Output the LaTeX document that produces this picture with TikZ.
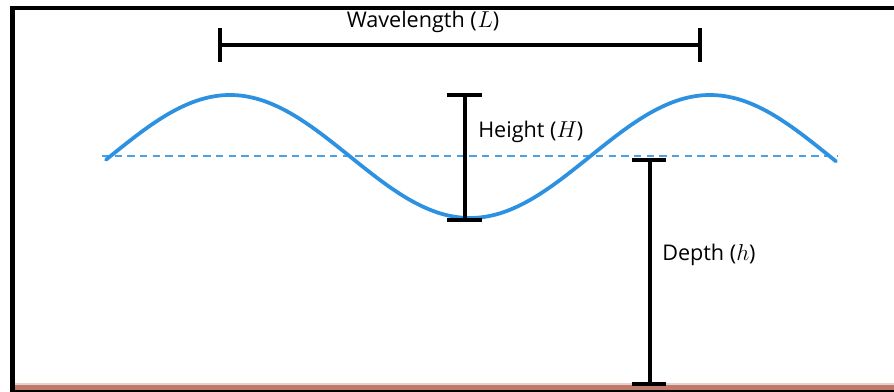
\documentclass[tikz,border=0pt]{standalone}
\usepackage{fontspec}
\setmainfont{Open Sans}
\definecolor{wave}{RGB}{44,145,225}
\definecolor{seabed}{RGB}{192,122,108}
\begin{document}
\begin{tikzpicture}[x=.75pt,y=-.75pt,
  bar/.style={line width=2.4pt,black},
  lbl/.style={font=\fontsize{16.2}{18}\selectfont,inner sep=0pt}]
  \useasboundingbox (0,0) rectangle (894,392);
  \fill[white] (0,0) rectangle (894,392);
  % frame and sea bed
  \fill[black] (10,6) rectangle (894,10); \fill[black] (10,6) rectangle (15,392);
  \fill[seabed!35] (15,383) rectangle (894,385); \fill[seabed] (15,385) rectangle (894,390); \fill[black] (15,390) rectangle (894,392);
  % still water level and wave
  \draw[wave!85,line width=1.5pt,dash pattern=on 5.5pt off 4pt] (102,156)--(838,156);
  \draw[wave,line width=2.8pt,line cap=round,domain=106:836,samples=120,smooth] plot (\x,{156.5-61.5*sin((\x-110)*0.75)});
  % wavelength
  \coordinate (L1) at (220,45); \coordinate (L2) at (700,45);
  \draw[bar] (L1)--(L2); \draw[bar] (220,28)--(220,62); \draw[bar] (700,28)--(700,62);
  \node[lbl] (wl) at (423,22) {Wavelength (\kern.5pt$L$)};
  % height
  \coordinate (H1) at (465,95); \coordinate (H2) at (465,220);
  \draw[bar] (H1)--(H2); \draw[bar] (447,95)--(482,95); \draw[bar] (447,220)--(482,220);
  \node[lbl,right] (ht) at (478,132) {Height ($H$)};
  % depth
  \coordinate (D1) at (650,160); \coordinate (D2) at (650,385);
  \draw[bar] (D1)--(D2); \draw[bar] (632,160)--(666,160); \draw[bar] (632,384)--(666,384);
  \node[lbl,right] (dp) at (662,255) {Depth ($h$)};
\end{tikzpicture}
\end{document}
